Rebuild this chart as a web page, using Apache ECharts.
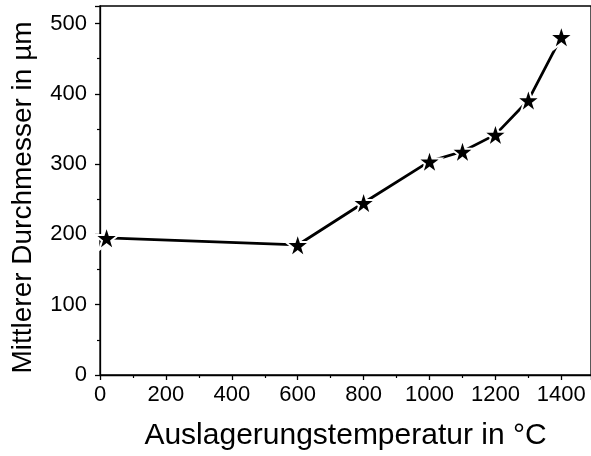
<!DOCTYPE html>
<html>
<head>
<meta charset="utf-8">
<script src="https://cdn.jsdelivr.net/npm/echarts@6/dist/echarts.min.js"></script>
<style>
    html, body { margin: 0; padding: 0; background: #fff; }
    #main { width: 591px; height: 456px; }
</style>
</head>
<body>
<div id="main"></div>
<script>
// Auslagerungstemperatur (°C) und mittlerer Durchmesser (µm)
const temperature = [20, 600, 800, 1000, 1100, 1200, 1300, 1400]
const diameter = [195, 185, 245, 304, 318, 342, 391, 481]

const xTitle = 'Auslagerungstemperatur in °C'
const yTitle = 'Mittlerer Durchmesser in µm'

const starPath = 'path://M50,0 L61.8,35.3 L98.9,35.3 L68.9,57.2 L80.3,92.6 L50,70.7 L19.7,92.6 L31.1,57.2 L1.1,35.3 L38.2,35.3 Z'
const font = 'Liberation Sans, Arial, sans-serif'

function addChart(dom, option) {
    let myChart = echarts.init(dom);
    myChart.setOption(option);
    return myChart;
}

let points = temperature.map((t, i) => [t, diameter[i]])

let option = {
    animation: false,
    grid: {
        left: 100,
        right: -3,
        top: 6,
        bottom: 81,
        show: true,
        borderColor: '#000',
        borderWidth: 1.3
    },
    xAxis: {
        type: 'value',
        min: 0,
        max: 1490,
        interval: 200,
        name: xTitle,
        nameLocation: 'middle',
        nameGap: 46,
        nameTextStyle: { fontFamily: font, fontSize: 30, color: '#000' },
        axisLine: { onZero: false, lineStyle: { color: '#000', width: 1.3 } },
        axisTick: { length: 5, lineStyle: { color: '#000', width: 1.3 } },
        minorTick: { show: true, splitNumber: 2, length: 3, lineStyle: { color: '#000', width: 1.2 } },
        axisLabel: {
            fontFamily: font, fontSize: 22, color: '#000', margin: 9, showMaxLabel: false,
            formatter: v => String(v)
        },
        splitLine: { show: false }
    },
    yAxis: {
        type: 'value',
        min: 0,
        max: 525,
        interval: 100,
        name: yTitle,
        nameLocation: 'middle',
        nameGap: 63,
        nameTextStyle: { fontFamily: font, fontSize: 28, color: '#000', padding: [0, 14, 0, 0] },
        axisLine: { show: true, lineStyle: { color: '#000', width: 1.3 } },
        axisTick: { show: true, length: 5, lineStyle: { color: '#000', width: 1.3 } },
        minorTick: { show: true, splitNumber: 2, length: 3, lineStyle: { color: '#000', width: 1.2 } },
        axisLabel: {
            fontFamily: font, fontSize: 22, color: '#000', margin: 13, showMaxLabel: false,
            formatter: v => String(v)
        },
        splitLine: { show: false }
    },
    series: [{
        type: 'line',
        data: points,
        symbol: starPath,
        symbolSize: 24,
        lineStyle: { color: '#000', width: 2.8 },
        itemStyle: { color: '#000', borderColor: '#fff', borderWidth: 2 }
    }]
}

addChart(document.getElementById('main'), option)
</script>
</body>
</html>
